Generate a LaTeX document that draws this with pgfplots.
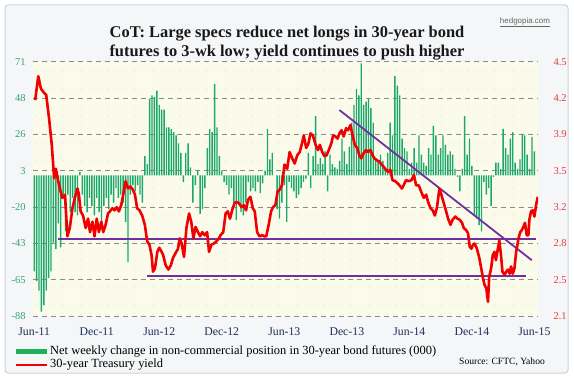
\documentclass[border=0pt]{standalone}
\usepackage{fontspec}
\setmainfont{Liberation Serif}
\newfontfamily\sansf{Liberation Sans}
\usepackage{pgfplots}
\usepackage{pgfplotstable}
\pgfplotsset{compat=1.18}
\usetikzlibrary{patterns.meta}

\definecolor{barg}{RGB}{28,168,106}
\definecolor{legg}{RGB}{30,176,90}
\definecolor{yred}{RGB}{240,0,0}
\definecolor{purp}{RGB}{112,48,160}
\definecolor{gridc}{RGB}{140,140,140}
\definecolor{lgreen}{RGB}{50,165,115}
\definecolor{rlab}{RGB}{232,60,60}
\definecolor{navy}{RGB}{30,45,90}
\definecolor{plotbg}{RGB}{251,251,236}
\definecolor{dotc}{RGB}{232,226,168}
\definecolor{outbg}{RGB}{245,246,247}
\definecolor{framec}{RGB}{200,212,224}

\pgfplotstableread[row sep=\\]{
val\\
-60\\ -66\\ -72\\ -85\\ -81\\ -72\\ -64\\ -60\\ -42\\ -46\\
-30\\ -45\\ -12\\ -35\\ -12\\ -23\\ -14\\ -23\\ -25\\ 2\\
-12\\ -19\\ -23\\ -14\\ -19\\ -25\\ -14\\ -23\\ -29\\ -19\\
-14\\ -21\\ -12\\ -17\\ -8\\ -14\\ -12\\ -17\\ -29\\ -54\\
-12\\ -6\\ -10\\ -6\\ -12\\ -17\\ 12\\ 7\\ 48\\ 50\\
49\\
53\\ 44\\ 41\\ 41\\ 30\\ 30\\ 29\\ 27\\ 25\\ 20\\
14\\ -4\\ 14\\ 20\\ 5\\ -17\\ -6\\ 3\\ -24\\ -21\\
-8\\ 17\\ 29\\ 27\\ 57\\ 30\\ 12\\ 3\\ -4\\ -6\\
-12\\ -8\\ -17\\ -28\\ -17\\ -23\\ -25\\ -17\\ -4\\ -10\\
-8\\ -10\\ -4\\ -11\\ -5\\ 3\\ 29\\ 10\\ 14\\ 0\\
-21\\ -27\\ -17\\
-6\\ -29\\ -4\\ -8\\ -10\\ -14\\ -12\\ -8\\ -4\\ -2\\
14\\ -8\\ 12\\ 37\\ 7\\ 11\\ 7\\ 15\\ -10\\ 13\\
7\\ 5\\ 4\\ 9\\ 23\\ 15\\ 7\\ 18\\ 33\\ 44\\
54\\ 50\\ 70\\ 44\\ 46\\ 48\\ 42\\ 33\\ 11\\ 9\\
13\\ 9\\ 5\\ 14\\ 33\\ 25\\ 62\\ 56\\ 50\\ 23\\
17\\ 15\\
4\\ 8\\ 17\\ 8\\ 25\\ 13\\ 8\\ 6\\ 17\\ 13\\
31\\ 25\\ 13\\ 17\\ 25\\ 19\\ 13\\ 15\\ 13\\ 4\\
-1\\ -10\\ 4\\
37\\ 13\\ 23\\ 6\\ -25\\ -27\\ -31\\ -35\\ -4\\ -12\\
-8\\ -19\\ -1\\ 8\\ 8\\ 4\\ 29\\ 17\\ 13\\ 23\\
27\\ 8\\ 4\\ 10\\ 26\\ 25\\ 13\\ 4\\ 24\\ 15\\
}\cotdata

\begin{document}
\begin{tikzpicture}[x=1bp,y=1bp]
\path[use as bounding box] (0,0) rectangle (574,377);
\fill[white] (0,0) rectangle (574,377);
\draw[framec, fill=outbg, line width=1bp, rounded corners=3bp] (5,4) rectangle (568,372);

\node[font=\fontsize{16.5}{19}\selectfont\bfseries, text=black!90, anchor=base, inner sep=0pt] at (287,339.5) {CoT: Large specs reduce net longs in 30-year bond};
\node[font=\fontsize{16.5}{19}\selectfont\bfseries, text=black!90, anchor=base, inner sep=0pt] at (287,321) {futures to 3-wk low; yield continues to push higher};
\node[font=\sansf\fontsize{8}{9}\selectfont, text=black!60] at (525,355) {\underline{hedgopia.com}};

\begin{axis}[
  at={(33bp,60.7bp)}, anchor=south west, scale only axis,
  width=505bp, height=254.6bp,
  xmin=-0.5, xmax=209.5, ymin=-88, ymax=71,
  axis line style={draw=none}, major tick length=0pt,
  axis background/.style={fill=plotbg, postaction={pattern={Dots[distance=9bp, radius=0.55bp]}, pattern color=dotc}},
  ytick={-88,-65.286,-42.571,-19.857,2.857,25.571,48.286,71},
  yticklabels={-88,-65,-43,-20,3,26,48,71},
  ymajorgrids, grid style={gridc, line width=0.9bp, dash pattern=on 5bp off 4bp},
  xtick={0,26,52,78,104,130,156,182,208},
  xticklabels={Jun-11,Dec-11,Jun-12,Dec-12,Jun-13,Dec-13,Jun-14,Dec-14,Jun-15},
  yticklabel style={font=\fontsize{10.5}{12}\selectfont, text=lgreen, xshift=-4bp},
  xticklabel style={font=\fontsize{11.8}{13}\selectfont, text=navy, yshift=-7.5bp},
]
\addplot[ybar, bar width=1.4bp, fill=barg, draw=none] table[x expr=\coordindex, y=val] {\cotdata};
\end{axis}

\begin{axis}[
  at={(33bp,60.7bp)}, anchor=south west, scale only axis,
  width=505bp, height=254.6bp,
  xmin=-0.5, xmax=209.5, ymin=2.1, ymax=4.55,
  axis line style={draw=none}, major tick length=0pt,
  xtick=\empty,
  ytick={2.1,2.45,2.8,3.15,3.5,3.85,4.2,4.55},
  yticklabels={2.1,2.5,2.8,3.2,3.5,3.9,4.2,4.5},
  yticklabel pos=right,
  yticklabel style={font=\fontsize{10.5}{12}\selectfont, text=rlab, xshift=12bp},
]
\addplot[purp, line width=1.8bp] coordinates {(10,2.844)(208.7,2.844)};
\addplot[purp, line width=1.8bp] coordinates {(47,2.488)(204.3,2.488)};
\addplot[purp, line width=1.8bp] coordinates {(126.9,4.085)(206.9,2.64)};
\addplot[yred, line width=2.6bp, line join=round] coordinates {
(0.4,4.18)(1.7,4.41)(2.8,4.29)(4.1,4.25)(5,4.23)(6.2,4.00)(7.3,3.75)(8.3,3.43)(9,3.52)(10,3.40)(11,3.30)(11.7,3.24)(12.8,3.27)(13.8,2.87)(14.8,2.95)(15.9,3.14)(16.9,3.24)(18,3.33)(18.6,3.27)(19.3,3.11)(20.3,3.07)(21.4,2.95)(22.4,3.04)(23.2,2.91)(24.2,3.01)(25.1,2.87)(26,3.04)(26.9,2.91)(27.9,3.01)(28.7,2.91)(29.7,2.98)(30.7,3.09)(31.5,3.11)(32.5,3.14)(33.4,3.12)(34.3,3.15)(35.2,3.11)(36.2,3.17)(37,3.27)(38,3.40)(39,3.33)(40,3.35)(41,3.32)(41.9,3.27)(42.8,3.14)(43.8,3.12)(44.9,3.07)(46,2.98)(47,2.82)(47.9,2.79)(48.8,2.69)(49.4,2.53)(50.2,2.56)(51.2,2.72)(52,2.76)(53,2.72)(53.6,2.69)(54.7,2.59)(55.8,2.55)(56.8,2.59)(57.7,2.66)(58.8,2.71)(59.8,2.75)(60.5,2.85)(61.3,2.80)(62.3,2.67)(63.3,2.95)(64.4,3.09)(65.3,3.01)(66.2,2.85)(67.1,2.96)(68.1,2.91)(69,2.87)(69.9,2.91)(70.9,2.88)(71.9,2.91)(72.7,2.72)(73.7,2.79)(74.7,2.80)(75.7,2.82)(76.8,2.85)(77.5,2.88)(78.6,2.91)(79.6,3.09)(80.5,3.11)(81.4,3.04)(82.3,3.12)(83.3,3.19)(84.1,3.20)(85.1,3.19)(86.2,3.15)(87.2,3.17)(88.1,3.12)(88.9,3.22)(89.9,3.25)(90.9,3.14)(91.7,3.11)(92.7,2.91)(93.7,2.87)(94.8,2.88)(95.7,2.87)(96.5,2.87)(97.5,2.98)(98.5,3.11)(99.3,3.15)(100.3,3.17)(101.2,3.30)(102.1,3.32)(103,3.36)(104.1,3.56)(105.2,3.52)(106.2,3.68)(107.3,3.62)(108.3,3.57)(109.4,3.65)(110.4,3.68)(111.2,3.75)(112.1,3.84)(113.1,3.72)(114,3.76)(114.9,3.86)(115.9,3.84)(117,3.75)(118,3.70)(118.8,3.75)(119.8,3.68)(120.7,3.64)(121.6,3.65)(122.5,3.70)(123.5,3.76)(124.3,3.84)(125.3,3.83)(126.2,3.81)(126.9,3.86)(127.8,3.89)(128.7,3.83)(129.7,3.91)(130.5,3.89)(131.5,3.94)(132.5,3.83)(133.3,3.75)(134.3,3.72)(135.2,3.65)(136,3.62)(137,3.67)(138,3.70)(138.8,3.68)(139.8,3.70)(140.7,3.65)(141.5,3.62)(142.6,3.60)(143.5,3.59)(144.4,3.56)(145.3,3.54)(146.3,3.51)(147.1,3.49)(148.1,3.51)(149,3.41)(150.1,3.40)(151.1,3.38)(151.9,3.36)(152.9,3.33)(153.6,3.36)(154.6,3.41)(155.7,3.40)(156.9,3.41)(157.9,3.46)(158.8,3.36)(159.9,3.36)(160.9,3.30)(162,3.24)(163,3.27)(163.8,3.20)(164.8,3.14)(165.7,3.12)(166.6,3.07)(167.5,3.15)(168.5,3.33)(169.3,3.27)(170.3,3.19)(171.3,3.11)(172.1,3.04)(173.1,2.98)(174,3.03)(175.1,3.06)(176,3.04)(176.9,3.03)(177.9,3.00)(178.6,2.95)(179.6,2.93)(180.4,2.90)(181.1,2.77)(181.8,2.75)(182.5,2.79)(183.1,2.80)(184.1,2.75)(185.1,2.66)(185.9,2.56)(186.6,2.47)(187.3,2.40)(188,2.37)(188.7,2.24)(189.2,2.48)(190,2.56)(190.7,2.69)(191.4,2.72)(192,2.64)(192.8,2.75)(193.4,2.83)(194.1,2.69)(194.7,2.53)(195.6,2.50)(196.3,2.53)(197,2.55)(197.7,2.51)(198.3,2.58)(199,2.51)(199.7,2.56)(200.4,2.72)(201.4,2.85)(202.1,2.91)(202.8,2.93)(203.4,2.96)(204.1,3.00)(204.8,2.88)(205.5,2.88)(205.9,3.03)(206.6,3.11)(207.3,3.12)(208,3.06)(208.7,3.17)(209.4,3.25)
};
\end{axis}

\fill[legg] (16,23) rectangle (47,28);
\node[anchor=west, font=\fontsize{12.5}{13}\selectfont, inner sep=0pt] at (50,25.5) {Net weekly change in non-commercial position in 30-year bond futures (000)};
\draw[yred, line width=2bp] (16,12) -- (47,12);
\node[anchor=west, font=\fontsize{12.5}{13}\selectfont, inner sep=0pt] at (50,12) {30-year Treasury yield};
\node[font=\fontsize{9.6}{10}\selectfont] at (502,15.5) {Source: CFTC, Yahoo};
\end{tikzpicture}
\end{document}
